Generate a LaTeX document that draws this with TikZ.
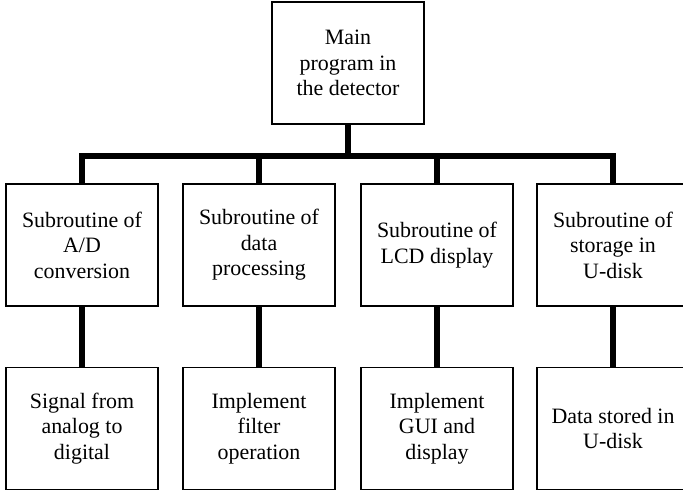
\documentclass[tikz,border=0pt]{standalone}
\usepackage{fontspec}
\setmainfont{Liberation Serif}
\begin{document}
\begin{tikzpicture}[x=1bp,y=1bp,
  box/.style={draw=black,line width=1.3bp,fill=white,minimum width=152bp,
    minimum height=122bp,inner sep=0pt,align=center,
    font=\fontsize{22}{25.5}\selectfont},
  link/.style={line width=6bp,draw=black,line join=miter}]
\useasboundingbox (0,0) rectangle (683,491);
% main program
\node[box] (main) at (348,428) {Main\\program in\\the detector};
% subroutines
\node[box] (s1) at (82,246) {Subroutine of\\A/D\\conversion};
\node[box] (s2) at (259,246) {Subroutine of\\data\\processing};
\node[box] (s3) at (437,246) {Subroutine of\\LCD display};
\node[box] (s4) at (613,246) {Subroutine of\\storage in\\U-disk};
% tasks
\node[box] (t1) at (82,62.5) {Signal from\\analog to\\digital};
\node[box] (t2) at (259,62.5) {Implement\\filter\\operation};
\node[box] (t3) at (437,62.5) {Implement\\GUI and\\display};
\node[box] (t4) at (613,62.5) {Data stored in\\U-disk};
% horizontal bus below the main program
\coordinate (bus) at (348,335);
\draw[link] (main.south) -- (bus);
\draw[link] (s1.north) -- (s1.north |- bus) -- (s4.north |- bus) -- (s4.north);
\draw[link] (s2.north) -- (s2.north |- bus);
\draw[link] (s3.north) -- (s3.north |- bus);
% links from each subroutine to its task
\foreach \i in {1,2,3,4} \draw[link] (s\i.south) -- (t\i.north);
\end{tikzpicture}
\end{document}
